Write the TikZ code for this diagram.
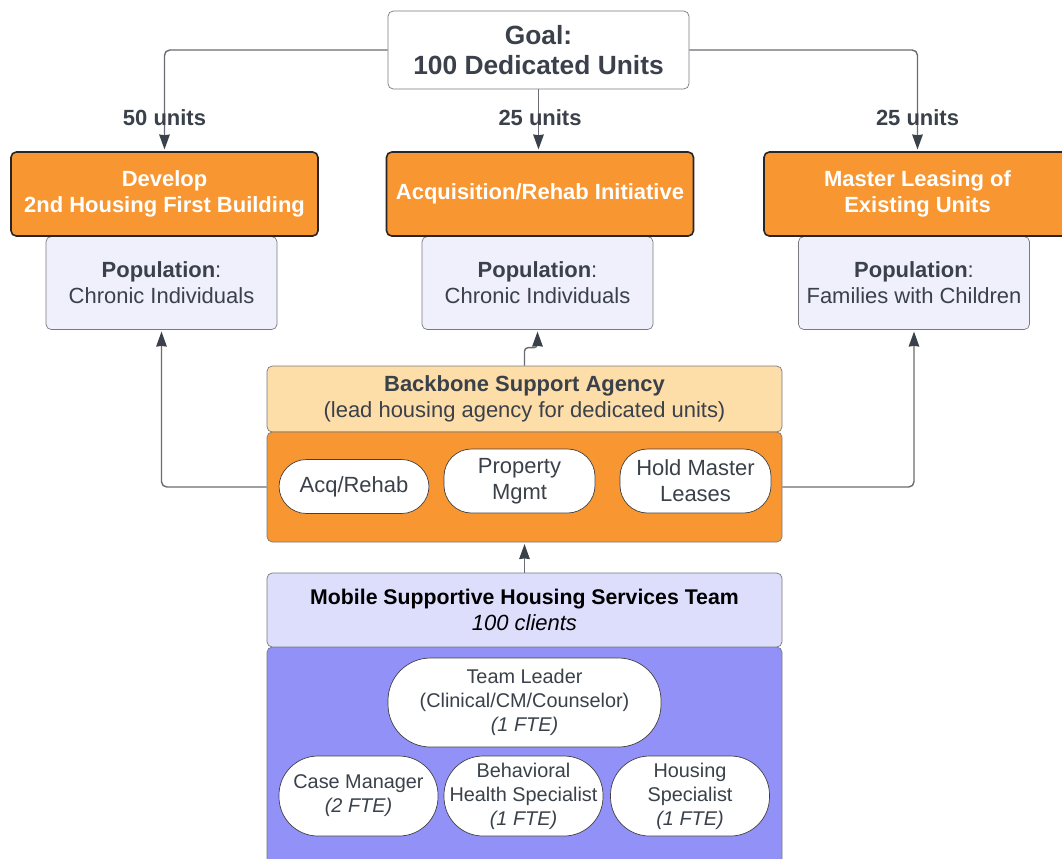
\documentclass[tikz,border=0pt]{standalone}
\usepackage{fontspec}
\setmainfont{Liberation Sans}
\usetikzlibrary{arrows.meta,positioning}
\definecolor{ink}{RGB}{58,65,74}
\definecolor{edge}{RGB}{120,122,128}
\definecolor{wire}{RGB}{105,108,115}
\definecolor{orng}{RGB}{248,150,50}
\definecolor{popbg}{RGB}{239,240,252}
\definecolor{peach}{RGB}{253,221,168}
\definecolor{lilac}{RGB}{221,222,251}
\definecolor{perwi}{RGB}{145,145,248}
\begin{document}
\begin{tikzpicture}[>={Stealth[length=8.5pt,width=6pt,inset=0.4pt,color=ink]},x=1.000cm,y=1.000cm,
 txt/.style={font=\fontsize{12.5}{14.7}\selectfont,text=ink,align=center},
 goal/.style={draw=edge,fill=white,rounded corners=3pt,align=center,text=ink,
   font=\bfseries\fontsize{15}{17.5}\selectfont,minimum width=6.02cm,minimum height=1.56cm},
 strat/.style={draw=black!85,line width=0.9pt,fill=orng,rounded corners=3pt,align=center,
   text=white,font=\bfseries\fontsize{12.5}{14.7}\selectfont,minimum width=6.14cm,minimum height=1.68cm},
 pop/.style={txt,draw=edge,fill=popbg,rounded corners=3pt,minimum width=4.62cm,minimum height=1.86cm},
 wide/.style={txt,draw=edge,rounded corners=3pt,minimum width=10.30cm},
 pill/.style={txt,draw=black!75,fill=white,rounded corners=0.55cm,inner sep=1pt},
 tpill/.style={pill,font=\fontsize{11.3}{13.6}\selectfont,rounded corners=0.78cm,minimum width=3.18cm,minimum height=1.60cm},
 lab/.style={font=\bfseries\fontsize{12.5}{14.7}\selectfont,text=ink,inner sep=1pt},
 wire/.style={draw=wire,line width=0.8pt,rounded corners=3pt,shorten >=1pt}]
\useasboundingbox (0,0) rectangle (21.240,-17.160);
\clip (0,0) rectangle (21.240,-17.160);
\fill[white] (0,0) rectangle (21.240,-17.160);
\node[goal] (goal) at (10.770,-1.000) {Goal:\\100 Dedicated Units};
\node[pop] (p1) at (3.230,-5.660) {\textbf{Population}:\\Chronic Individuals};
\node[pop] (p2) at (10.750,-5.660) {\textbf{Population}:\\Chronic Individuals};
\node[pop] (p3) at (18.280,-5.660) {\textbf{Population}:\\Families with Children};
\node[strat] (s1) at (3.290,-3.880) {Develop\\2nd Housing First Building};
\node[strat] (s2) at (10.800,-3.880) {Acquisition/Rehab Initiative};
\node[strat] (s3) at (18.350,-3.880) {Master Leasing of\\Existing Units};
\node[wide,fill=peach,minimum height=1.32cm] (bb) at (10.490,-7.980) {\textbf{Backbone Support Agency}\\(lead housing agency for dedicated units)};
\node[wide,fill=orng,minimum height=2.20cm] (sv) at (10.490,-9.740) {};
\node[pill,minimum width=3.00cm,minimum height=1.08cm] (acq) at (7.080,-9.730) {Acq/Rehab};
\node[pill,minimum width=3.02cm,minimum height=1.28cm] (mgmt) at (10.390,-9.620) {Property\\Mgmt};
\node[pill,minimum width=3.02cm,minimum height=1.28cm] (lease) at (13.910,-9.620) {Hold Master\\Leases};
\node[wide,fill=perwi,minimum height=4.52cm] (team) at (10.490,-15.200) {};
\node[wide,fill=lilac,minimum height=1.48cm,text=black] (mob) at (10.490,-12.200) {{\bfseries\fontsize{12.1}{14.7}\selectfont Mobile Supportive Housing Services Team}\\\textit{100 clients}};
\node[tpill,minimum width=5.46cm,minimum height=1.78cm,rounded corners=0.85cm] (lead) at (10.490,-14.050) {Team Leader\\(Clinical/CM/Counselor)\\\textit{(1 FTE)}};
\node[tpill] (cm) at (7.170,-15.920) {Case Manager\\\textit{(2 FTE)}};
\node[tpill] (bhs) at (10.470,-15.920) {Behavioral\\Health Specialist\\\textit{(1 FTE)}};
\node[tpill] (hs) at (13.800,-15.920) {Housing\\Specialist\\\textit{(1 FTE)}};
% goal split
\draw[wire,->] (goal.west) -| (s1.north);
\draw[wire,->] (goal.south) -- (goal.south |- s2.north);
\draw[wire,->] (goal.east) -| (s3.north);
\node[lab,above=0.46cm of s1] (u1) {50 units};
\node[lab,above=0.46cm of s2] (u2) {25 units};
\node[lab,above=0.46cm of s3] (u3) {25 units};
% agency to populations
\draw[wire,->] (sv.west) -| (p1.south);
\draw[wire,->,rounded corners=2pt] (bb.north) -- ++(0,0.360) -| (p2.south);
\draw[wire,->] (sv.east) -| (p3.south);
\draw[wire,->] (mob.north) -- (sv.south);
\end{tikzpicture}
\end{document}
